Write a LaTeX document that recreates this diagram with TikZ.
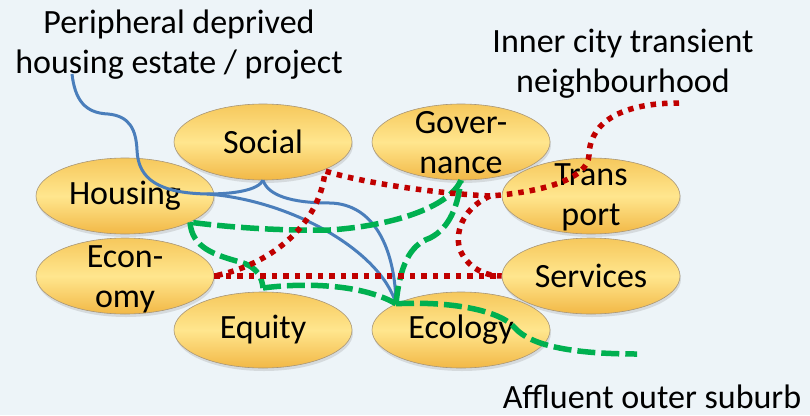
\documentclass[tikz,border=0pt]{standalone}
\usepackage{fontspec}
\setmainfont{Carlito}
\usepackage{xcolor}
\definecolor{backdrop}{RGB}{237,244,248}
\definecolor{goldtop}{RGB}{246,200,92}
\definecolor{goldmid}{RGB}{255,230,142}
\definecolor{goldbot}{RGB}{242,184,70}
\definecolor{rim}{RGB}{168,150,120}
\definecolor{estateblue}{RGB}{74,126,187}
\definecolor{innerred}{RGB}{192,0,0}
\definecolor{suburbgreen}{RGB}{0,176,80}
\usepackage{tikz}
\usetikzlibrary{shapes.geometric,shadows}
\newcommand{\stacked}[3][10pt]{\smash{\raisebox{#1}{\begin{tabular}[t]{@{}c@{}}#2\\#3\end{tabular}}}}
\tikzset{
  theme/.style={ellipse,draw=rim,line width=0.6pt,minimum width=178pt,%
    minimum height=76pt,inner sep=0pt,top color=goldtop,bottom color=goldbot,%
    middle color=goldmid,font=\fontsize{34}{40}\selectfont,%
    drop shadow={shadow xshift=1pt,shadow yshift=-3pt,opacity=0.22}},
  caption/.style={font=\fontsize{34}{40}\selectfont,inner sep=0pt,anchor=base},
  estate/.style={draw=estateblue,line width=3pt},
  innercity/.style={draw=innerred,line width=5.5pt,dash pattern=on 5.5pt off 6pt},
  suburb/.style={draw=suburbgreen,line width=5.5pt,dash pattern=on 18pt off 6pt},
}

\begin{document}
\begin{tikzpicture}[x=1pt,y=-1pt]
\fill[backdrop] (0,0) rectangle (810,415);
\useasboundingbox (0,0) rectangle (810,415);

\node[theme] (hous) at (125,196) {Housing};
\node[theme] (soc) at (263,142) {Social};
\node[theme] (econ) at (125,276) {\stacked[9pt]{Econ-}{omy}};
\node[theme] (eq) at (263,330) {Equity};
\node[theme] (gov) at (461,142) {\stacked[9pt]{Gover-}{nance}};
\node[theme] (trans) at (591,196) {\stacked[11pt]{Trans}{port}};
\node[theme] (serv) at (591,276) {Services};
\node[theme] (eco) at (461,330) {Ecology};

\node[caption] (estatetxt) at (179,33)
  {\begin{tabular}[t]{@{}c@{}}Peripheral deprived\\housing estate / project\end{tabular}};
\node[caption] (innertxt) at (623,52)
  {\begin{tabular}[t]{@{}c@{}}Inner city transient\\neighbourhood\end{tabular}};
\node[caption] (suburbtxt) at (652,408) {Affluent outer suburb};

\coordinate (pstart) at (72,74);
\coordinate (bfork) at (207,194);
\coordinate (hub) at (eco.158);
\coordinate (rstart) at (679,103);
\coordinate (rfork) at (490,196);
\coordinate (rbend) at (325,171);
\coordinate (gkink) at (263,288);
\coordinate (gend) at (637,354);

\draw[estate] (pstart) .. controls (75,100) and (85,113) .. (108,114)
  .. controls (130,116) and (136,130) .. (137,150)
  .. controls (138,180) and (160,193) .. (bfork);
\draw[estate] (bfork) .. controls (235,194) and (258,190) .. (soc.south);
\draw[estate] (soc.south) .. controls (268,195) and (290,203) .. (330,203)
  .. controls (375,204) and (395,250) .. (hub);
\draw[estate] (bfork) .. controls (290,200) and (380,250) .. (hub);

\draw[suburb] (gov.south) .. controls (450,205) and (400,225) .. (330,230)
  .. controls (270,231) and (220,226) .. (hous.-22);
\draw[suburb] (hous.-22) .. controls (192,248) and (215,255) .. (240,262)
  .. controls (258,267) and (262,278) .. (gkink);
\draw[suburb] (gkink) .. controls (300,283) and (360,283) .. (hub);
\draw[suburb] (hub) .. controls (400,265) and (410,245) .. (430,238)
  .. controls (450,228) and (458,205) .. (gov.south);
\draw[suburb] (hub) .. controls (450,301) and (500,310) .. (515,328)
  .. controls (530,345) and (570,354) .. (gend);

\draw[innercity] (rstart) .. controls (625,103) and (590,120) .. (589,155)
  .. controls (588,180) and (540,192) .. (rfork);
\draw[innercity] (rfork) .. controls (430,193) and (360,182) .. (rbend)
  .. controls (320,225) and (270,265) .. (econ.east);
\draw[innercity] (rfork) .. controls (460,210) and (455,235) .. (460,250)
  .. controls (468,268) and (485,276) .. (serv.west);
\draw[innercity] (econ.east) -- (serv.west);
\end{tikzpicture}
\end{document}
